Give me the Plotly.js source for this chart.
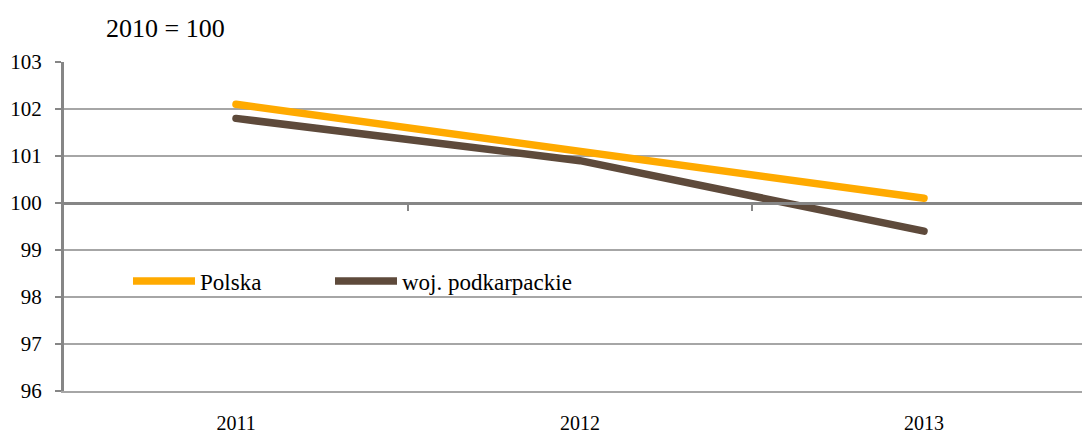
<!DOCTYPE html>
<html>
<head>
<meta charset="utf-8">
<script src="https://cdn.plot.ly/plotly-3.0.1.min.js"></script>
<style>
html,body{margin:0;padding:0;overflow:hidden;background:#fff;}
#chart{width:1100px;height:435px;}
#chart .scatterlayer .js-line{stroke-linecap:round;}
</style>
</head>
<body>
<div id="chart"></div>
<script>
const years = ['2011', '2012', '2013'];
const polska = [102.1, 101.1, 100.1];
const podkarpackie = [101.8, 100.9, 99.4];
const seriesNames = ['Polska', 'woj. podkarpackie'];
const yTicks = [96, 97, 98, 99, 100, 101, 102, 103];
const subtitle = '2010 = 100';

const FONT = 'Times New Roman';

const traces = [
  {x: years, y: polska, name: seriesNames[0], type: 'scatter', mode: 'lines',
   line: {color: '#FFAA00', width: 7.5}, legend: 'legend'},
  {x: years, y: podkarpackie, name: seriesNames[1], type: 'scatter', mode: 'lines',
   line: {color: '#5E4A3B', width: 7.5}, legend: 'legend2'}
];

const legendBase = {
  orientation: 'h', xanchor: 'left', y: 0.334, yanchor: 'middle',
  font: {family: FONT, size: 23, color: '#000'},
  bgcolor: 'rgba(0,0,0,0)', itemwidth: 62
};

const layout = {
  width: 1100, height: 435,
  margin: {l: 64, r: 4, t: 62, b: 44},
  paper_bgcolor: '#fff', plot_bgcolor: '#fff',
  font: {family: FONT, color: '#000', size: 20},
  showlegend: true,
  title: {text: subtitle, font: {family: FONT, size: 26, color: '#000'},
          x: 106/1100, xanchor: 'left', xref: 'container',
          y: 1 - 28/435, yanchor: 'middle', yref: 'container'},
  legend: Object.assign({}, legendBase, {x: (128 - 64) / 1032}),
  legend2: Object.assign({}, legendBase, {x: (330 - 64) / 1032}),
  xaxis: {type: 'category', range: [-0.5, 2.5], showgrid: false, zeroline: false,
          showline: true, linecolor: '#a6a6a6', linewidth: 2, ticks: '', ticklabelstandoff: 13,
          tickfont: {family: FONT, size: 20, color: '#000'}, fixedrange: true},
  xaxis2: {type: 'category', range: [-0.5, 2.5], overlaying: 'x', anchor: 'free',
           position: (100 - 96) / 7, showline: true, linecolor: '#868686', linewidth: 3,
           ticks: 'outside', tickvals: [0.5, 1.5], ticklen: 6, tickwidth: 2, tickcolor: '#868686',
           showticklabels: false, showgrid: false, zeroline: false, fixedrange: true},
  yaxis: {range: [96, 103], tickvals: yTicks, ticktext: yTicks.map(String),
          showgrid: true, gridcolor: '#a6a6a6', gridwidth: 2,
          showline: true, linecolor: '#868686', linewidth: 3,
          ticks: 'outside', ticklen: 6, tickwidth: 2, tickcolor: '#868686',
          ticklabelstandoff: 9,
          zeroline: false, tickfont: {family: FONT, size: 21, color: '#000'}, fixedrange: true}
};

traces.push({x: years, y: [null, null, null], xaxis: 'x2', yaxis: 'y', showlegend: false,
             hoverinfo: 'skip', type: 'scatter', mode: 'lines'});

Plotly.newPlot('chart', traces, layout, {staticPlot: true, displayModeBar: false});
</script>
</body>
</html>
